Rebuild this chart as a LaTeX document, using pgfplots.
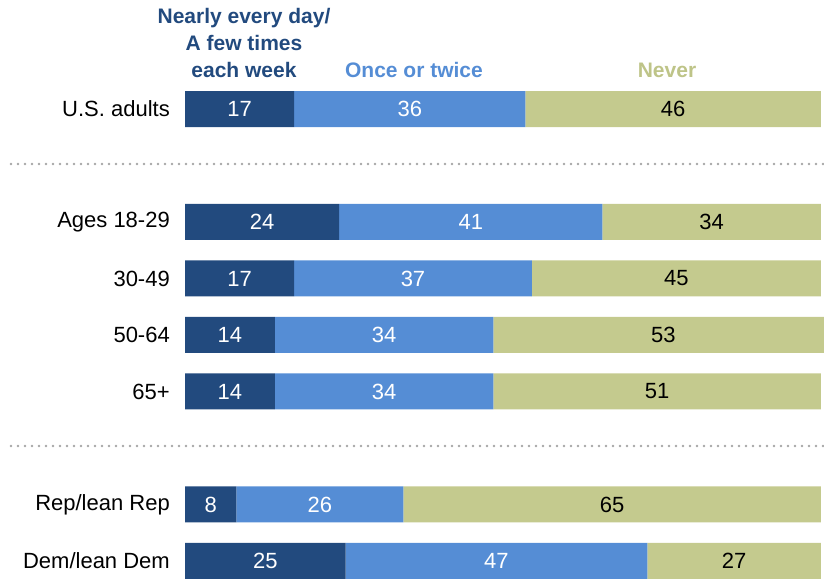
\documentclass[border=0pt]{standalone}
\usepackage{fontspec}
\setmainfont{Liberation Sans}
\usepackage{pgfplots}
\pgfplotsset{compat=1.18}
\definecolor{c1}{HTML}{224A7E}
\definecolor{c2}{HTML}{558DD5}
\definecolor{c3}{HTML}{C4CA8E}
\definecolor{c3t}{HTML}{BEC488}
\begin{document}
\begin{tikzpicture}[x=1pt,y=1pt]
\useasboundingbox (0,0) rectangle (824,-579);
\begin{axis}[
  at={(185pt,-89.8pt)}, anchor=north west,
  scale only axis, width=639pt, height=489.2pt,
  xmin=0, xmax=99.5, ymin=-8.32, ymax=0.34,
  xbar stacked, bar width=36pt,
  axis line style={draw=none},
  major tick length=0pt,
  xtick=\empty,
  ytick={0,-2,-3,-4,-5,-7,-8},
  yticklabels={U.S. adults, Ages 18-29, 30-49, 50-64, 65+, Rep/lean Rep, Dem/lean Dem},
  y tick label style={font=\fontsize{22}{26}\selectfont, inner sep=0pt, xshift=-15pt, anchor=east},
  clip=false,
  /pgf/number format/assume math mode=true,
  visualization depends on=rawx \as \rawx,
  nodes near coords={\pgfmathprintnumber{\rawx}},
  nodes near coords align={center},
  every node near coord/.append style={anchor=center, font=\fontsize{22}{26}\selectfont},
]
\addplot[fill=c1, draw=none, every node near coord/.append style={text=white}] coordinates {(17,0) (24,-2) (17,-3) (14,-4) (14,-5) (8,-7) (25,-8)};
\addplot[fill=c2, draw=none, every node near coord/.append style={text=white}] coordinates {(36,0) (41,-2) (37,-3) (34,-4) (34,-5) (26,-7) (47,-8)};
\addplot[fill=c3, draw=none, every node near coord/.append style={text=black}] coordinates {(46,0) (34,-2) (45,-3) (53,-4) (51,-5) (65,-7) (27,-8)};
\end{axis}
\draw[color=black!35, line width=2.6pt, dash pattern=on 0pt off 7pt, line cap=round] (11,-164) -- (824,-164);
\draw[color=black!35, line width=2.6pt, dash pattern=on 0pt off 7pt, line cap=round] (11,-446) -- (824,-446);
\node[font=\fontsize{21}{27}\selectfont\bfseries, text=c1, align=center, anchor=base] at (244,-77) {Nearly every day/\\A few times\\each week};
\node[font=\fontsize{21}{27}\selectfont\bfseries, text=c2, anchor=base] at (414,-77) {Once or twice};
\node[font=\fontsize{21}{27}\selectfont\bfseries, text=c3t, anchor=base] at (667,-77) {Never};
\end{tikzpicture}
\end{document}
